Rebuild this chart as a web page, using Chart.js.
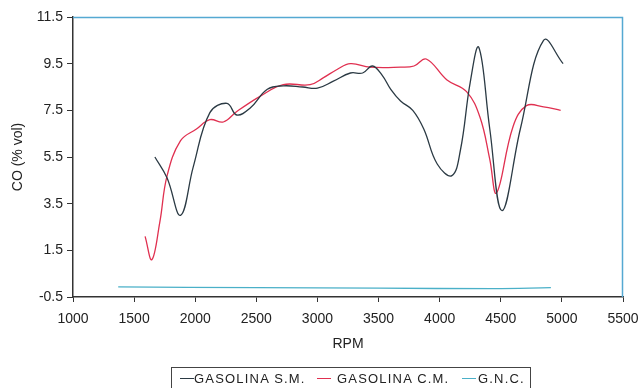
<!DOCTYPE html>
<html><head><meta charset="utf-8">
<script src="https://cdn.jsdelivr.net/npm/chart.js@4/dist/chart.umd.min.js"></script>
<style>
html,body{margin:0;padding:0;background:#fff;}
#wrap{position:relative;width:638px;height:388px;overflow:hidden;}
#legend{position:absolute;left:171px;top:367px;width:360px;height:24px;border:1px solid #444;box-sizing:border-box;font:13px "Liberation Sans",Arial,sans-serif;letter-spacing:1.2px;color:#222;}
#legend span{position:absolute;top:3px;white-space:nowrap;}
#legend i{position:absolute;top:10px;width:14px;height:0;border-top:1px solid;}
</style></head>
<body><div id="wrap"><canvas id="c" width="638" height="388"></canvas>
<div id="legend">
<i style="left:8px;border-color:#2b3a44"></i><span style="left:22px">GASOLINA S.M.</span>
<i style="left:145px;border-color:#e03050"></i><span style="left:165px">GASOLINA C.M.</span>
<i style="left:290px;border-color:#4ab0c8"></i><span style="left:306px">G.N.C.</span>
</div></div>
<script>
const smRpm = [1670,1770,1880,1985,2120,2260,2340,2450,2590,2720,2880,3000,3130,3270,3370,3450,3530,3600,3680,3780,3870,3980,4100,4170,4250,4320,4410,4510,4660,4850,5010];
const smCO  = [5.5,4.6,3.0,5.1,7.4,7.8,7.3,7.6,8.4,8.55,8.5,8.45,8.75,9.1,9.1,9.4,9.0,8.4,7.9,7.5,6.7,5.2,4.7,5.8,8.7,10.2,6.7,3.2,6.7,10.5,9.5];
const cmRpm = [1590,1645,1710,1770,1880,2010,2120,2230,2340,2530,2720,2940,3050,3160,3270,3430,3680,3790,3890,4060,4220,4330,4410,4465,4600,4710,4850,4990];
const cmCO  = [2.1,1.1,2.7,4.7,6.2,6.7,7.1,7.0,7.45,8.1,8.6,8.6,8.9,9.25,9.5,9.35,9.35,9.4,9.7,8.8,8.3,7.2,5.4,3.96,6.8,7.7,7.65,7.5];
const gncRpm = [1370,2500,3500,4440,4910];
const gncCO  = [-0.07,-0.1,-0.12,-0.14,-0.1];
const xTicks = [1000,1500,2000,2500,3000,3500,4000,4500,5000,5500];
const yTicks = [-0.5,1.5,3.5,5.5,7.5,9.5,11.5];

const pts = (xs, ys) => xs.map((x, i) => ({x, y: ys[i]}));
const FONT = {family: '"Liberation Sans", Arial, sans-serif', size: 14};

const frame = {
  id: 'frame',
  afterDraw(chart) {
    const {ctx, chartArea: a} = chart;
    ctx.save();
    ctx.strokeStyle = '#55a9d2';
    ctx.lineWidth = 1.5;
    ctx.beginPath();
    ctx.moveTo(a.left, a.top + 0.5);
    ctx.lineTo(a.right - 0.5, a.top + 0.5);
    ctx.lineTo(a.right - 0.5, a.bottom);
    ctx.stroke();
    ctx.restore();
  }
};

new Chart(document.getElementById('c'), {
  type: 'line',
  data: {
    datasets: [
      {label: 'GASOLINA S.M.', data: pts(smRpm, smCO), borderColor: '#2b3a44', borderWidth: 1.3, tension: 0.4, pointRadius: 0, fill: false},
      {label: 'GASOLINA C.M.', data: pts(cmRpm, cmCO), borderColor: '#e03050', borderWidth: 1.3, tension: 0.4, pointRadius: 0, fill: false},
      {label: 'G.N.C.', data: pts(gncRpm, gncCO), borderColor: '#4ab0c8', borderWidth: 1.3, tension: 0.4, pointRadius: 0, fill: false}
    ]
  },
  options: {
    responsive: false,
    animation: false,
    layout: {padding: {left: 6, top: 17, right: 0, bottom: 31}},
    plugins: {legend: {display: false}, tooltip: {enabled: false}},
    scales: {
      x: {
        type: 'linear', min: 1000, max: 5500,
        afterBuildTicks: s => { s.ticks = xTicks.map(v => ({value: v})); },
        afterFit: s => { s.height = 60; s.paddingRight = 15; s.paddingLeft = 0; },
        grid: {drawOnChartArea: false, drawTicks: true, tickLength: 5, color: '#333'},
        border: {color: '#333', width: 1.5},
        ticks: {font: FONT, color: '#222', padding: 9, maxRotation: 0, callback: v => String(v)},
        title: {display: true, text: 'RPM', font: FONT, color: '#222'}
      },
      y: {
        min: -0.5, max: 11.5,
        afterBuildTicks: s => { s.ticks = yTicks.map(v => ({value: v})); },
        afterFit: s => { s.width = 67; },
        grid: {drawOnChartArea: false, drawTicks: true, tickLength: 6, color: '#333'},
        border: {color: '#333', width: 1.5},
        ticks: {font: FONT, color: '#222', padding: 4, callback: v => v.toFixed(1)},
        title: {display: true, text: 'CO (% vol)', font: FONT, color: '#222'}
      }
    }
  },
  plugins: [frame]
});
</script></body></html>
